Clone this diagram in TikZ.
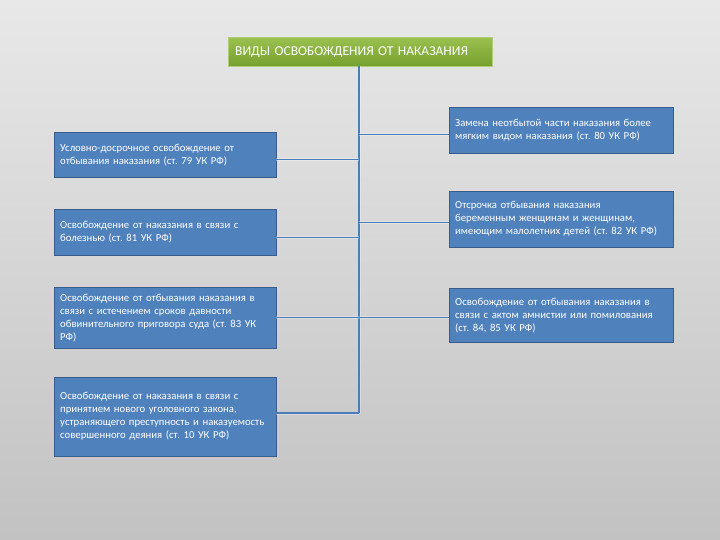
\documentclass[tikz,border=0pt]{standalone}
\usepackage{fontspec}
\setmainfont{Carlito}
\frenchspacing
\definecolor{boxblue}{HTML}{4F81BD}
\definecolor{boxedge}{HTML}{385D8A}
\definecolor{linkblue}{HTML}{4A7EBB}
\definecolor{greentop}{HTML}{9BC04F}
\definecolor{greenbot}{HTML}{76A12F}
\begin{document}
\begin{tikzpicture}[x=1pt,y=-1pt]

    \tikzset{boxstyle/.style={draw=boxedge,fill=boxblue,text=white,anchor=north west,
        inner xsep=6pt,align=left,font=\fontsize{10.7}{13}\selectfont},
      leftbox/.style={boxstyle,text width=210pt,minimum width=222pt},
      rightbox/.style={boxstyle,text width=212pt,minimum width=224pt},
      link/.style={linkblue,line width=1.2pt,preaction={draw=white,opacity=0.3,line width=3pt}}}

    \shade[top color=black!9,bottom color=black!24] (0,0) rectangle (720,540);
    \useasboundingbox (0,0) rectangle (720,540);

    \node[draw=greentop!80!white,top color=greentop,bottom color=greenbot,text=white,
      anchor=north west,minimum width=264pt,minimum height=29pt,inner xsep=7pt,
      text width=250pt,align=left,font=\fontsize{13.5}{15}\selectfont] (title) at (228,37)
      {ВИДЫ ОСВОБОЖДЕНИЯ ОТ НАКАЗАНИЯ};

    \node[leftbox,minimum height=45pt] (l1) at (54,132)
      {Условно-досрочное освобождение от\\ отбывания наказания (ст. 79 УК РФ)};
    \node[leftbox,minimum height=46pt] (l2) at (54,209)
      {Освобождение от наказания в связи с\\ болезнью (ст. 81 УК РФ)};
    \node[leftbox,minimum height=61pt] (l3) at (54,287)
      {Освобождение от отбывания наказания в\\ связи с истечением сроков давности\\ обвинительного приговора суда (ст. 83 УК\\ РФ)};
    \node[leftbox,minimum height=79pt] (l4) at (54,377)
      {Освобождение от наказания в связи с\\ принятием нового уголовного закона,\\ устраняющего преступность и наказуемость\\ совершенного деяния (ст. 10 УК РФ)};

    \node[rightbox,minimum height=46pt] (r1) at (449,107)
      {Замена неотбытой части наказания более\\ мягким видом наказания (ст. 80 УК РФ)};
    \node[rightbox,minimum height=56pt] (r2) at (449,191)
      {Отсрочка отбывания наказания\\ беременным женщинам и женщинам,\\ имеющим малолетних детей (ст. 82 УК РФ)};
    \node[rightbox,minimum height=54pt] (r3) at (449,288)
      {Освобождение от отбывания наказания в\\ связи с актом амнистии или помилования\\ (ст. 84, 85 УК РФ)};

    % ствол
    \coordinate (trunk) at (359,413);
    \draw[link] (title.south -| trunk) -- (trunk);

    \draw[link] ([yshift=-5pt]l1.east) -- ([yshift=-5pt]l1.east -| trunk);
    \draw[link] ([yshift=-5pt]l2.east) -- ([yshift=-5pt]l2.east -| trunk);
    \draw[link] (l3.east) -- (l3.east -| trunk);
    \draw[link] (l4.east |- trunk) -- (trunk);

    \draw[link] ([yshift=-4pt]r1.west) -- ([yshift=-4pt]r1.west -| trunk);
    \draw[link] ([yshift=-3pt]r2.west) -- ([yshift=-3pt]r2.west -| trunk);
    \draw[link] (r3.west |- l3.east) -- (l3.east -| trunk);

\end{tikzpicture}
\end{document}
